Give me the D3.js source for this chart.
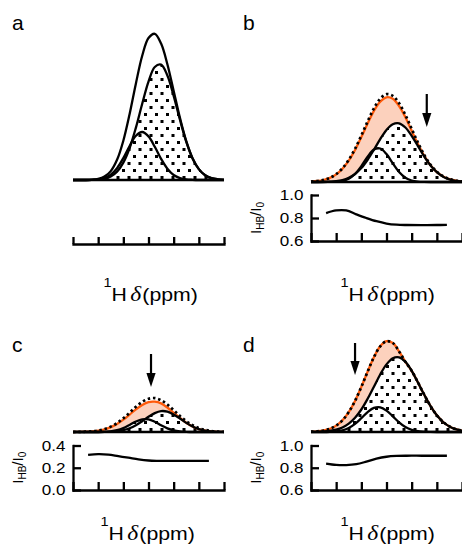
<!DOCTYPE html>
<html>
<head>
<meta charset="utf-8">
<script src="https://cdn.jsdelivr.net/npm/d3@7"></script>
<style>
  html, body { margin: 0; padding: 0; background: #fff; }
  svg { display: block; }
</style>
</head>
<body>
<script>
// Chemical-shift sample positions, in tick units (7 ticks, 0..6)
const shift = [0, 0.25, 0.5, 0.75, 1, 1.25, 1.5, 1.75, 2, 2.25, 2.5, 2.75, 3, 3.25, 3.5, 3.75, 4, 4.25, 4.5, 4.75, 5, 5.25, 5.5, 5.75, 6];
const shiftTicks = [0, 1, 2, 3, 4, 5, 6];

// Panel a: two components and their envelope (a.u.)
const aLarge = [0, 0, 0, 0.1, 0.5, 1.4, 3.6, 8.4, 17.4, 32.0, 52.4, 76.2, 98.4, 113.0, 115.3, 104.5, 84.1, 60.2, 38.3, 21.6, 10.9, 4.8, 1.9, 0.7, 0.2];
const aSmall = [0, 0, 0, 0.2, 0.6, 2.0, 5.3, 11.8, 21.9, 34.0, 44.2, 48.0, 43.6, 33.2, 21.1, 11.3, 5.0, 1.9, 0.6, 0.2, 0, 0, 0, 0, 0];
const aTotal = [0, 0, 0, 0.3, 1.1, 3.4, 8.9, 20.2, 39.3, 66.0, 96.6, 124.2, 142.0, 146.2, 136.4, 115.8, 89.1, 62.1, 38.9, 21.8, 10.9, 4.8, 1.9, 0.7, 0.2];

// Panel b
const bLarge = [0, 0, 0.1, 0.4, 0.9, 2.0, 4.2, 8.0, 13.9, 22.2, 32.2, 42.9, 52.1, 57.8, 58.7, 54.5, 46.2, 35.9, 25.4, 16.5, 9.8, 5.3, 2.6, 1.2, 0.5];
const bSmall = [0, 0, 0, 0.1, 0.3, 1.1, 3.3, 8.0, 15.9, 25.3, 32.5, 33.5, 27.9, 18.7, 10.0, 4.3, 1.5, 0.4, 0.1, 0, 0, 0, 0, 0, 0];
const bTotal = [0.4, 1.0, 2.1, 4.2, 7.9, 13.7, 22.1, 33.2, 46.5, 60.6, 73.7, 83.3, 87.8, 86.2, 78.8, 67.1, 53.2, 39.3, 27.0, 17.3, 10.3, 5.8, 3.0, 1.4, 0.6];
const bObserved = [0.4, 1.0, 2.0, 4.1, 7.6, 13.2, 21.3, 32.0, 44.9, 58.5, 71.1, 80.4, 84.7, 83.2, 76.0, 64.8, 51.3, 37.9, 26.1, 16.7, 9.9, 5.6, 2.9, 1.4, 0.6];

// Panel c
const cLarge = [0, 0, 0, 0, 0, 0.1, 0.3, 0.8, 1.9, 3.8, 6.8, 10.8, 15.2, 18.9, 20.9, 20.4, 17.6, 13.5, 9.1, 5.5, 2.9, 1.4, 0.6, 0.2, 0.1];
const cSmall = [0, 0, 0, 0, 0, 0.2, 0.7, 1.8, 3.9, 7.1, 10.5, 12.7, 12.6, 10.2, 6.7, 3.6, 1.6, 0.6, 0.2, 0, 0, 0, 0, 0, 0];
const cTotal = [0, 0.1, 0.3, 0.7, 1.5, 3.0, 5.4, 8.9, 13.7, 19.3, 25.2, 30.1, 33.3, 33.9, 31.8, 27.5, 21.9, 16.0, 10.8, 6.8, 3.9, 2.1, 1.0, 0.4, 0.2];
const cObserved = [0, 0.1, 0.3, 0.6, 1.4, 2.7, 4.9, 8.0, 12.3, 17.4, 22.7, 27.1, 29.9, 30.3, 28.6, 24.5, 19.3, 14.0, 9.3, 5.5, 2.9, 1.4, 0.6, 0.2, 0.1];

// Panel d
const dLarge = [0.1, 0.2, 0.5, 1.1, 2.3, 4.5, 8.3, 14.2, 22.5, 33.2, 45.3, 57.5, 67.6, 73.8, 74.7, 70.2, 61.2, 49.5, 37.2, 25.9, 16.7, 10.0, 5.6, 2.9, 1.4];
const dSmall = [0, 0, 0, 0.2, 0.6, 1.7, 4.0, 8.1, 13.8, 19.9, 24.1, 24.7, 21.4, 15.7, 9.7, 5.0, 2.2, 0.8, 0.3, 0.1, 0, 0, 0, 0, 0];
const dTotal = [0.3, 0.7, 1.5, 3.2, 6.4, 11.7, 19.9, 31.1, 45.1, 60.4, 74.8, 85.7, 90.8, 89.0, 80.6, 70.2, 61.2, 49.5, 37.2, 25.9, 16.7, 10.0, 5.6, 2.9, 1.4];
const dObserved = [0.3, 0.7, 1.5, 3.2, 6.4, 11.7, 19.9, 31.1, 45.1, 60.4, 74.8, 85.7, 90.8, 89.0, 80.6, 70.2, 61.2, 49.5, 37.2, 25.9, 16.7, 10.0, 5.6, 2.9, 1.4];

// Intensity ratio I_HB/I_0 across the spectrum
const ratioShift = [0.6, 1.0, 1.4, 1.8, 2.2, 2.6, 3.0, 3.4, 3.8, 4.4, 5.0, 5.4];
const bRatio = [0.843, 0.866, 0.866, 0.832, 0.800, 0.772, 0.752, 0.742, 0.739, 0.738, 0.739, 0.740];
const cRatio = [0.315, 0.322, 0.318, 0.304, 0.290, 0.275, 0.265, 0.262, 0.261, 0.261, 0.261, 0.261];
const dRatio = [0.838, 0.826, 0.824, 0.832, 0.855, 0.882, 0.899, 0.906, 0.908, 0.908, 0.908, 0.908];

const ratioTicksHigh = [0.6, 0.8, 1.0];
const ratioTicksLow = [0.0, 0.2, 0.4];

// Arrow positions (shift units) marking the saturated region
const bArrowAt = 4.6;
const cArrowAt = 3.1;
const dArrowAt = 1.75;

const SANS = "'Liberation Sans', Arial, Helvetica, sans-serif";
const SERIF = "'Liberation Serif', 'Times New Roman', serif";
const ORANGE = "#ff5a0a";
const PEACH = "#fcd1bd";
const LW = 2.3;

const svg = d3.select("body").append("svg")
  .attr("width", 462).attr("height", 551)
  .attr("font-family", SANS);

const defs = svg.append("defs");
const pat = defs.append("pattern")
  .attr("id", "dots")
  .attr("patternUnits", "userSpaceOnUse")
  .attr("width", 11).attr("height", 14);
pat.append("rect").attr("x", 1).attr("y", 1).attr("width", 3).attr("height", 3).attr("fill", "#000");
pat.append("rect").attr("x", 6.5).attr("y", 8).attr("width", 3).attr("height", 3).attr("fill", "#000");

const panels = [
  { letter: "a", x0: 73, base: 180, large: aLarge, small: aSmall, total: aTotal, observed: null,
    axisY: 244, inset: null, title: [103.5, 301], letterPos: [12, 30] },
  { letter: "b", x0: 311, base: 182, large: bLarge, small: bSmall, total: bTotal, observed: bObserved,
    arrow: { at: bArrowAt, top: 94, tip: 127 },
    inset: { top: 195, bottom: 241, ticks: ratioTicksHigh, ratio: bRatio },
    title: [340.5, 301], letterPos: [243, 30] },
  { letter: "c", x0: 73, base: 432, large: cLarge, small: cSmall, total: cTotal, observed: cObserved,
    arrow: { at: cArrowAt, top: 354, tip: 387 },
    inset: { top: 445.5, bottom: 490, ticks: ratioTicksLow, ratio: cRatio },
    title: [100.5, 540], letterPos: [12, 352] },
  { letter: "d", x0: 311, base: 432, large: dLarge, small: dSmall, total: dTotal, observed: dObserved,
    arrow: { at: dArrowAt, top: 343, tip: 375 },
    inset: { top: 445.5, bottom: 490, ticks: ratioTicksHigh, ratio: dRatio },
    title: [340.5, 540], letterPos: [243, 352] }
];

function styleAxis(g) {
  g.select(".domain").attr("stroke", "#000").attr("stroke-width", LW).attr("stroke-linecap", "square");
  g.selectAll(".tick line").attr("stroke", "#000").attr("stroke-width", LW);
}

function drawTitle(x, y) {
  const t = svg.append("text")
    .attr("transform", `translate(${x},${y}) scale(1.12,1)`)
    .attr("fill", "#000");
  t.append("tspan").attr("font-size", 13).attr("dy", -14).text("1");
  t.append("tspan").attr("font-size", 19).attr("dy", 14).text("H");
  t.append("tspan").attr("font-size", 21).attr("dx", 3)
    .attr("font-family", SERIF).attr("font-style", "italic").text("δ");
  t.append("tspan").attr("font-size", 19).attr("dx", 1).text("(ppm)");
}

function drawYLabel(cx, cy) {
  const t = svg.append("text")
    .attr("transform", `translate(${cx},${cy}) rotate(-90)`)
    .attr("text-anchor", "middle")
    .attr("font-size", 15).attr("fill", "#000");
  t.append("tspan").text("I");
  t.append("tspan").attr("font-size", 10).attr("dy", 3).text("HB");
  t.append("tspan").attr("dy", -3).text("/I");
  t.append("tspan").attr("font-size", 10).attr("dy", 3).text("0");
}

panels.forEach(p => {
  const x = d3.scaleLinear().domain([0, 6]).range([p.x0, p.x0 + 151]);
  const y = d3.scaleLinear().domain([0, 150]).range([p.base, p.base - 150]);
  const g = svg.append("g");

  const rows = shift.map((s, i) => ({
    s,
    large: p.large[i],
    small: p.small[i],
    total: p.total[i],
    observed: p.observed ? p.observed[i] : null,
    under: Math.max(p.large[i], p.small[i])
  }));

  const curve = d3.curveCatmullRom.alpha(0.5);
  const lineOf = key => d3.line().x(d => x(d.s)).y(d => y(d[key])).curve(curve);

  // shaded difference between observed and component envelope
  if (p.observed) {
    g.append("path").datum(rows)
      .attr("fill", PEACH)
      .attr("d", d3.area().x(d => x(d.s)).y0(d => y(d.under)).y1(d => y(Math.max(d.observed, d.under))).curve(curve));
  }

  // stippled component area
  g.append("path").datum(rows)
    .attr("fill", "url(#dots)")
    .attr("d", d3.area().x(d => x(d.s)).y0(y(0)).y1(d => y(d.under)).curve(curve));

  if (p.observed) {
    g.append("path").datum(rows)
      .attr("fill", "none").attr("stroke", ORANGE).attr("stroke-width", LW)
      .attr("d", lineOf("observed"));
  }

  g.append("path").datum(rows)
    .attr("fill", "none").attr("stroke", "#000")
    .attr("stroke-width", p.observed ? 2.7 : LW)
    .attr("stroke-dasharray", p.observed ? "2.5,2.8" : null)
    .attr("d", lineOf("total"));

  g.append("path").datum(rows)
    .attr("fill", "none").attr("stroke", "#000").attr("stroke-width", LW)
    .attr("d", lineOf("large"));
  g.append("path").datum(rows)
    .attr("fill", "none").attr("stroke", "#000").attr("stroke-width", LW)
    .attr("d", lineOf("small"));

  // spectrum baseline
  g.append("line")
    .attr("x1", x(0)).attr("x2", x(6)).attr("y1", y(0)).attr("y2", y(0))
    .attr("stroke", "#000").attr("stroke-width", 2.6);

  // arrow
  if (p.arrow) {
    const ax = x(p.arrow.at);
    g.append("line").attr("x1", ax).attr("x2", ax)
      .attr("y1", p.arrow.top).attr("y2", p.arrow.tip - 10)
      .attr("stroke", "#000").attr("stroke-width", 2.2);
    g.append("path")
      .attr("d", `M${ax - 4.6},${p.arrow.tip - 14}L${ax + 4.6},${p.arrow.tip - 14}L${ax},${p.arrow.tip}Z`)
      .attr("fill", "#000");
  }

  if (!p.inset) {
    const ax = g.append("g").attr("transform", `translate(0,${p.axisY})`)
      .call(d3.axisBottom(x).tickValues(shiftTicks).tickSizeInner(-7).tickSizeOuter(0).tickFormat(""));
    styleAxis(ax);
  } else {
    const ins = p.inset;
    const yr = d3.scaleLinear().domain([ins.ticks[0], ins.ticks[2]]).range([ins.bottom, ins.top]);
    const bx = g.append("g").attr("transform", `translate(0,${ins.bottom})`)
      .call(d3.axisBottom(x).tickValues(shiftTicks).tickSizeInner(-8).tickSizeOuter(0).tickFormat(""));
    styleAxis(bx);
    const ly = g.append("g").attr("transform", `translate(${p.x0},0)`)
      .call(d3.axisLeft(yr).tickValues(ins.ticks).tickFormat(d3.format(".1f"))
        .tickSizeInner(-8).tickSizeOuter(0).tickPadding(8));
    styleAxis(ly);
    ly.selectAll(".tick text")
      .attr("font-size", 15.5).attr("font-family", SANS).attr("fill", "#000")
      .attr("x", null).attr("transform", "translate(-7.5,0) scale(1.1,1)");

    const rrows = ratioShift.map((s, i) => ({ s, v: ins.ratio[i] }));
    g.append("path").datum(rrows)
      .attr("fill", "none").attr("stroke", "#000").attr("stroke-width", LW)
      .attr("d", d3.line().x(d => x(d.s)).y(d => yr(d.v)).curve(d3.curveCatmullRom.alpha(0.5)));

    drawYLabel(p.x0 - 50, (ins.top + ins.bottom) / 2);
  }

  svg.append("text")
    .attr("x", p.letterPos[0]).attr("y", p.letterPos[1])
    .attr("font-size", 21).attr("fill", "#000")
    .text(p.letter);

  drawTitle(p.title[0], p.title[1]);
});
</script>
</body>
</html>
